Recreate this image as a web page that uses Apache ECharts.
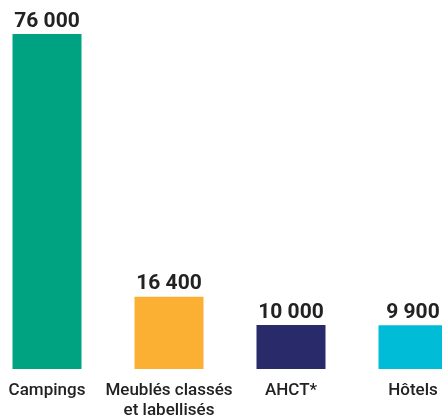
<!DOCTYPE html>
<html>
<head>
<meta charset="utf-8">
<script src="https://cdn.jsdelivr.net/npm/echarts@6/dist/echarts.min.js"></script>
<style>
  html, body { margin: 0; padding: 0; background: #fff; }
  #chart { width: 442px; height: 417px; }
</style>
</head>
<body>
<div id="chart"></div>
<script>
var categories = ["Campings", "Meublés classés\net labellisés", "AHCT*", "Hôtels"];
var values = [76000, 16400, 10000, 9900];

// couleurs des barres, dans l'ordre des catégories
var palette = ["#00A381", "#FBB034", "#282A69", "#00BCD6"];

function formatNumber(v) {
  return String(v).replace(/\B(?=(\d{3})+(?!\d))/g, " ");
}

var chart = echarts.init(document.getElementById("chart"));

var option = {
  animation: false,
  grid: {
    left: 47,
    right: 29,
    top: 34,
    bottom: 48,
    outerBoundsMode: "none",
    containLabel: false
  },
  xAxis: {
    type: "category",
    data: categories,
    boundaryGap: false,
    axisLine: { show: false },
    axisTick: { show: false },
    axisLabel: {
      interval: 0,
      margin: 12,
      color: "#222",
      fontSize: 17,
      fontWeight: 500,
      lineHeight: 20,
      fontFamily: "Roboto"
    }
  },
  yAxis: {
    type: "value",
    min: 0,
    max: 76000,
    show: false,
    splitLine: { show: false }
  },
  series: [
    {
      type: "bar",
      barWidth: 69,
      data: values.map(function (v, i) {
        return { value: v, itemStyle: { color: palette[i] } };
      }),
      label: {
        show: true,
        position: "top",
        distance: 2,
        color: "#222",
        fontSize: 21,
        fontWeight: "bold",
        fontFamily: "Roboto",
        formatter: function (p) {
          return formatNumber(p.value);
        }
      }
    }
  ]
};

chart.setOption(option);
</script>
</body>
</html>
